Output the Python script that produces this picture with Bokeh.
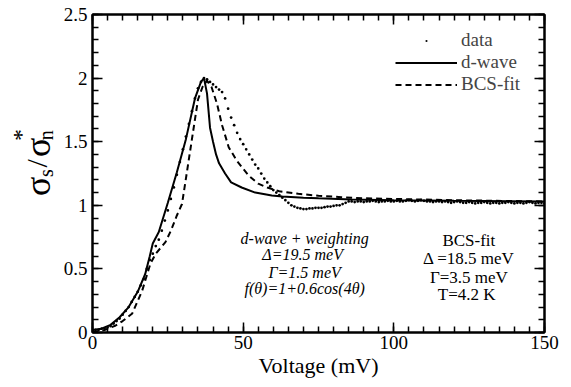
import math
from bokeh.plotting import figure
from bokeh.layouts import row
from bokeh.models import (Range1d, LinearAxis, SingleIntervalTicker, Legend, LegendItem,
                          Label, ColumnDataSource)
from bokeh.embed import file_html
from bokeh.resources import INLINE

# ---------------- data ----------------
data_v = list(range(0, 151))
data_y = [
    0.02, 0.02, 0.02, 0.03, 0.03, 0.04, 0.05, 0.07, 0.09, 0.11,
    0.14, 0.17, 0.20, 0.24, 0.28, 0.32, 0.37, 0.42, 0.50, 0.57,
    0.62, 0.68, 0.73, 0.80, 0.88, 0.96, 1.05, 1.14, 1.24, 1.34,
    1.44, 1.54, 1.64, 1.74, 1.84, 1.92, 1.97, 2.00, 1.99, 1.97,
    1.95, 1.93, 1.91, 1.89, 1.84, 1.76, 1.69, 1.63, 1.57, 1.52,
    1.48, 1.44, 1.40, 1.36, 1.32, 1.29, 1.25, 1.21, 1.18, 1.15,
    1.12, 1.10, 1.08, 1.06, 1.04, 1.02, 1.00, 0.99, 0.98, 0.975,
    0.97, 0.97, 0.975, 0.975, 0.98, 0.98, 0.98, 0.985, 0.99, 0.99,
    0.995, 1.00, 1.00, 1.01, 1.02, 1.03, 1.03, 1.025, 1.03, 1.03,
    1.025, 1.03, 1.03, 1.035, 1.03, 1.025, 1.03, 1.03, 1.035, 1.03,
    1.03, 1.035, 1.03, 1.03, 1.035, 1.04, 1.035, 1.03, 1.035, 1.04,
    1.035, 1.03, 1.03, 1.025, 1.03, 1.03, 1.025, 1.03, 1.025, 1.02,
    1.025, 1.03, 1.025, 1.02, 1.02, 1.025, 1.02, 1.015, 1.02, 1.02,
    1.025, 1.02, 1.015, 1.02, 1.02, 1.015, 1.02, 1.02, 1.025, 1.02,
    1.015, 1.02, 1.02, 1.015, 1.02, 1.025, 1.02, 1.015, 1.02, 1.02,
    1.015,
]

dwave_v = [0, 3, 6, 9, 12, 15, 17.5, 19, 20, 22, 25, 28, 31, 34, 36, 37,
           38, 39, 40, 41, 42, 44, 46, 49.5, 54, 59.5, 63, 70, 75, 86, 100, 120, 150]
dwave_y = [0.02, 0.03, 0.06, 0.12, 0.20, 0.32, 0.46, 0.60, 0.70, 0.79, 1.02, 1.26,
           1.52, 1.84, 1.97, 2.00, 1.88, 1.61, 1.50, 1.40, 1.33, 1.25, 1.18, 1.14,
           1.10, 1.077, 1.07, 1.06, 1.055, 1.045, 1.04, 1.035, 1.03]

bcs_v = [0, 4, 7.7, 10, 13.2, 16.5, 19.2, 21, 24.2, 26, 28, 29.7, 31, 33, 35,
         36.5, 38, 39.5, 41.3, 43, 45.2, 47.9, 51.8, 55, 58, 62, 68.3, 75, 82.6,
         90, 100, 120, 150]
bcs_y = [0.0, 0.02, 0.055, 0.09, 0.15, 0.33, 0.54, 0.62, 0.71, 0.80, 0.92, 1.01,
         1.21, 1.52, 1.83, 1.93, 1.98, 1.93, 1.80, 1.63, 1.457, 1.35, 1.234, 1.17,
         1.14, 1.11, 1.09, 1.075, 1.064, 1.055, 1.05, 1.04, 1.03]

x_label = "Voltage (mV)"
legend_labels = ["data", "d-wave", "BCS-fit"]
dwave_text = ["d-wave + weighting", "\u0394=19.5  meV", "\u0393=1.5 meV", "f(\u03b8)=1+0.6cos(4\u03b8)"]
bcs_text = ["BCS-fit", "\u0394 =18.5 meV", "\u0393=3.5 meV", "T=4.2  K"]
y_ticks = [0, 0.5, 1, 1.5, 2, 2.5]
y_tick_labels = ["0", "0.5", "1", "1.5", "2", "2.5"]

FONT = "Liberation Serif"
TITLE_W = 60
H = 387

p = figure(width=571 - TITLE_W, height=H, output_backend="svg", toolbar_location=None,
           x_range=Range1d(0, 150), y_range=Range1d(0, 2.5),
           min_border_left=90 - TITLE_W, min_border_right=27, min_border_top=14,
           min_border_bottom=55)
p.background_fill_color = "white"
p.border_fill_color = "white"
p.xgrid.visible = False
p.ygrid.visible = False
p.outline_line_color = "black"
p.outline_line_width = 2

def style_axis(ax, show_labels):
    ax.axis_line_width = 2
    ax.axis_line_color = "black"
    ax.major_tick_in = 10
    ax.major_tick_out = 0
    ax.minor_tick_in = 6
    ax.minor_tick_out = 0
    ax.major_tick_line_width = 1.5
    ax.minor_tick_line_width = 1.5
    ax.major_tick_line_color = "black"
    ax.minor_tick_line_color = "black"
    ax.major_label_text_font = FONT
    ax.major_label_text_color = "black"
    if show_labels:
        ax.major_label_text_font_size = "19px"
    else:
        ax.major_label_text_font_size = "0px"
        ax.major_label_standoff = 0

xt = SingleIntervalTicker(interval=50, num_minor_ticks=10)
yt = SingleIntervalTicker(interval=0.5, num_minor_ticks=5)

xa = p.xaxis[0]
xa.ticker = xt
style_axis(xa, True)
xa.major_label_standoff = 3
xa.axis_label = x_label
xa.axis_label_text_font = FONT
xa.axis_label_text_font_size = "22px"
xa.axis_label_text_font_style = "normal"
xa.axis_label_text_color = "black"
xa.axis_label_standoff = 1

ya = p.yaxis[0]
ya.ticker = yt
style_axis(ya, True)
ya.major_label_standoff = 5
ya.major_label_overrides = {t: s for t, s in zip(y_ticks, y_tick_labels)}

xa2 = LinearAxis(ticker=SingleIntervalTicker(interval=50, num_minor_ticks=10))
style_axis(xa2, False)
p.add_layout(xa2, "above")
ya2 = LinearAxis(ticker=SingleIntervalTicker(interval=0.5, num_minor_ticks=5))
style_axis(ya2, False)
p.add_layout(ya2, "right")

src_data = ColumnDataSource(dict(v=data_v, y=data_y))
r_data = p.scatter("v", "y", source=src_data, size=11, color="black", marker="dot")
r_dwave = p.line(dwave_v, dwave_y, line_color="black", line_width=2)
r_bcs = p.line(bcs_v, bcs_y, line_color="black", line_width=2, line_dash="6 4")

legend = Legend(items=[LegendItem(label=legend_labels[0], renderers=[r_data]),
                       LegendItem(label=legend_labels[1], renderers=[r_dwave]),
                       LegendItem(label=legend_labels[2], renderers=[r_bcs])],
                location=(303, 237), orientation="vertical",
                padding=0, margin=0, spacing=0,
                glyph_width=62, glyph_height=21, label_height=21, label_standoff=4,
                label_text_font=FONT, label_text_font_size="19px",
                border_line_color=None, background_fill_alpha=0)
p.add_layout(legend)

# annotation blocks
left_y = [0.739, 0.613, 0.472, 0.346]
right_y = [0.723, 0.582, 0.432, 0.299]
for t_, yy in zip(dwave_text, left_y):
    p.add_layout(Label(x=70.4, y=yy, text=t_, text_align="center", text_baseline="middle",
                       text_font=FONT, text_font_style="italic", text_font_size="16px",
                       text_color="black"))
for t_, yy in zip(bcs_text, right_y):
    p.add_layout(Label(x=124.9, y=yy, text=t_, text_align="center", text_baseline="middle",
                       text_font=FONT, text_font_size="17px", text_color="black"))

# ---- y-axis title  sigma_s / sigma_n *  in a narrow companion panel ----
t = figure(width=TITLE_W, height=H, output_backend="svg", toolbar_location=None,
           x_range=Range1d(0, TITLE_W), y_range=Range1d(0, H),
           min_border=0, min_border_left=0, min_border_right=0,
           min_border_top=0, min_border_bottom=0)
t.axis.visible = False
t.xgrid.visible = False
t.ygrid.visible = False
t.outline_line_color = None
t.background_fill_color = "white"
t.border_fill_color = "white"

ylab = [("\u03c3", 37, H - 209, "36px", "alphabetic"),
        ("s", 45, H - 193, "20px", "alphabetic"),
        ("/", 36, H - 181, "30px", "alphabetic"),
        ("\u03c3", 37, H - 161.5, "36px", "alphabetic"),
        ("n", 45, H - 147, "20px", "alphabetic"),
        ("*", 20, H - 146.5, "24px", "middle")]
for txt, xx, yy, fs, bl in ylab:
    t.add_layout(Label(x=xx, y=yy, text=txt,
                       angle=math.pi / 2, text_align="center", text_baseline=bl,
                       text_font=FONT, text_font_size=fs, text_color="black"))

layout = row(t, p, spacing=0)
open("out.html", "w").write(file_html(layout, INLINE))
